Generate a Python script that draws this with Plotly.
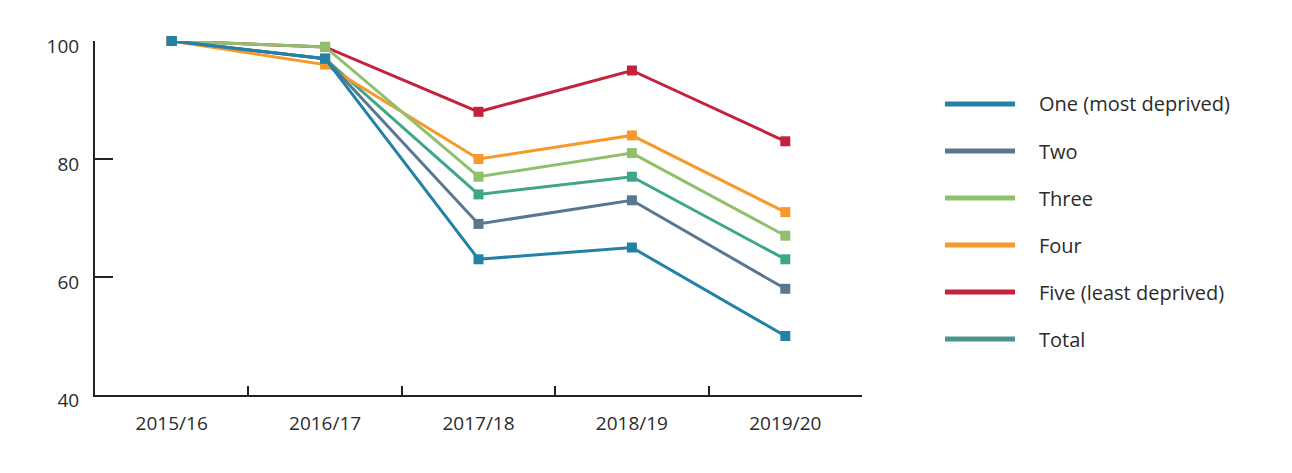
import plotly.graph_objects as go

categories = ["2015/16", "2016/17", "2017/18", "2018/19", "2019/20"]
series_names = ["One (most deprived)", "Two", "Three", "Four", "Five (least deprived)", "Total"]
one = [100, 97, 63, 65, 50]
two = [100, 97, 69, 73, 58]
three = [100, 99, 77, 81, 67]
four = [100, 96, 80, 84, 71]
five = [100, 99, 88, 95, 83]
total = [100, 97, 74, 77, 63]
series_values = [one, two, three, four, five, total]
colors = ["#2381a6", "#5a7792", "#90c06c", "#f7992a", "#c3213c", "#3fa68a"]
legend_colors = ["#2381a6", "#5a7792", "#90c06c", "#f7992a", "#c3213c", "#4a948f"]
y_ticks = [40, 60, 80, 100]

FONT = "'Open Sans', Lato, sans-serif"
TXT = "#2b2b2b"

# page body has an 8px default margin; plot area target (page px): x 95-862, y 41-395
OFF = 8
W, H = 1292 - 2 * OFF, 473 - 2 * OFF
L, T = 95 - OFF, 41 - OFF
R = W - (862 - OFF)
B = H - (395 - OFF)
PW, PH = 862 - 95, 395 - 41

fig = go.Figure()
# draw in reverse so "One" sits on top
for name, vals, col in reversed(list(zip(series_names, series_values, colors))):
    fig.add_trace(go.Scatter(
        x=categories, y=vals, name=name, mode="lines+markers",
        line=dict(color=col, width=3),
        marker=dict(symbol="square", size=10, color=col),
        cliponaxis=False, showlegend=False,
    ))

# manual legend (long line samples)
legend_top = 104
legend_step = 47
for i, (name, col) in enumerate(zip(series_names, legend_colors)):
    yy = legend_top + i * legend_step
    fig.add_shape(type="line", xref="paper", yref="paper",
                  x0=(945 - 95) / PW, x1=(1015 - 95) / PW,
                  y0=(395 - yy) / PH, y1=(395 - yy) / PH,
                  line=dict(color=col, width=5))
    fig.add_annotation(xref="paper", yref="paper",
                       x=(1037 - 95) / PW, y=(395 - yy) / PH,
                       text=name, showarrow=False, xanchor="left", yanchor="middle",
                       font=dict(family=FONT, size=20, color=TXT))

fig.update_layout(
    width=W, height=H,
    margin=dict(l=L, r=R, t=T, b=B),
    paper_bgcolor="white", plot_bgcolor="white",
    font=dict(family=FONT, size=19, color=TXT),
    showlegend=False,
)
fig.update_xaxes(
    type="category", range=[-0.5, 4.5],
    showline=True, linecolor="#222", linewidth=2,
    ticks="inside", tickson="boundaries", ticklen=9, tickwidth=2, tickcolor="#222",
    showgrid=False, zeroline=False, ticklabelstandoff=10,
    tickfont=dict(family=FONT, size=19, color=TXT),
)
fig.update_yaxes(
    range=[40, 100], tickvals=y_ticks,
    showline=True, linecolor="#222", linewidth=2,
    ticks="inside", ticklen=18, tickwidth=2, tickcolor="#222",
    showgrid=False, zeroline=False, ticklabelstandoff=10, ticklabelshift=5,
    tickfont=dict(family=FONT, size=19, color=TXT),
)

fig.write_html("out.html")
